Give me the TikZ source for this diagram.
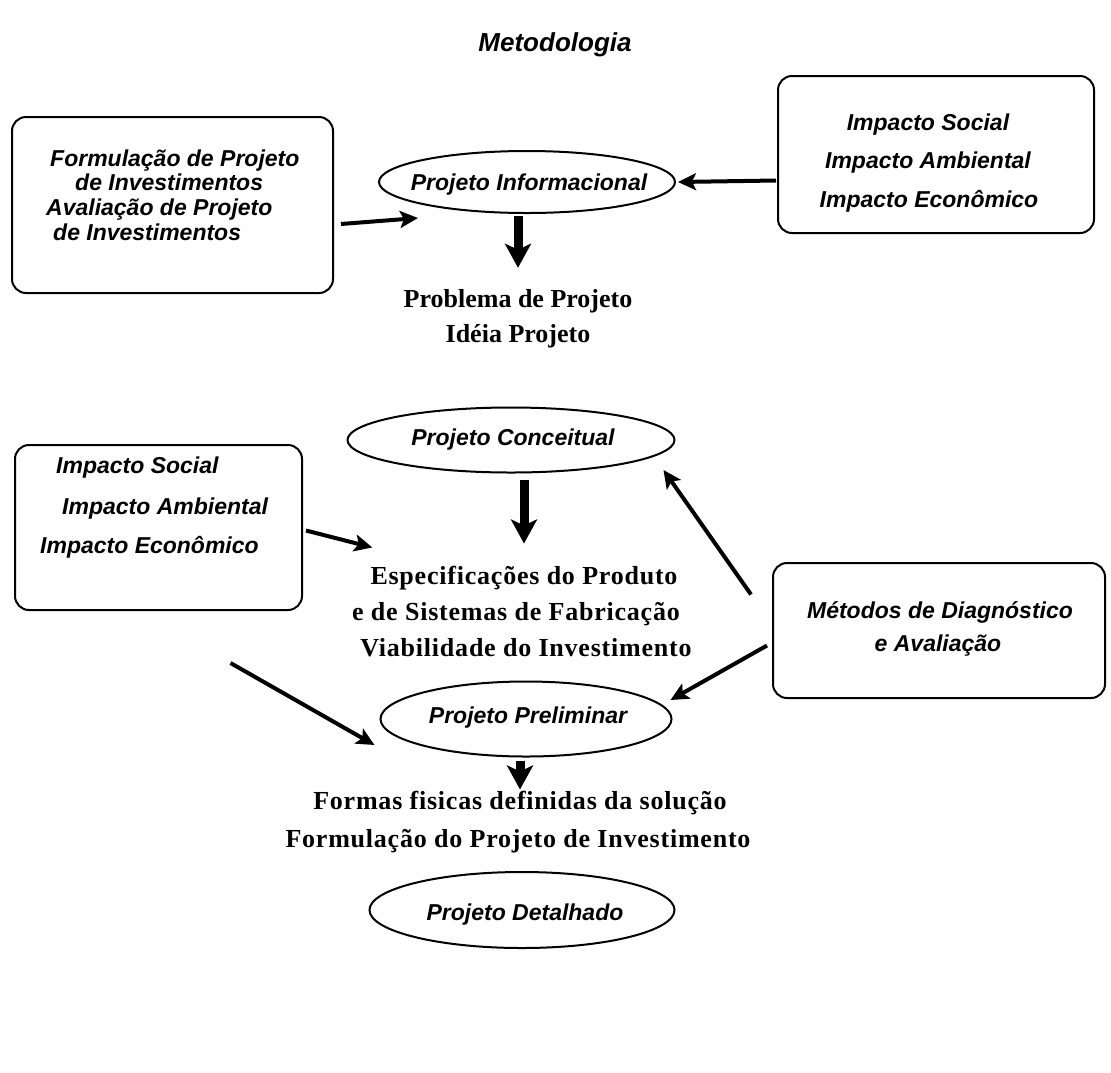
\documentclass[tikz,border=0pt]{standalone}
\usepackage{fontspec}
\setmainfont{Liberation Serif}
\setsansfont{Liberation Sans}
\newfontfamily\spacedserif[LetterSpace=3]{Liberation Serif}
\usetikzlibrary{arrows.meta,shapes.geometric}

\tikzset{
  box/.style={draw, line width=2pt, rounded corners=14pt, inner sep=0pt},
  ell/.style={draw, ellipse, line width=2pt, inner sep=0pt},
  lbl/.style={font=\fontsize{23}{23}\selectfont\sffamily\bfseries\itshape, inner sep=0pt},
  txt/.style={font=\fontsize{26}{26}\selectfont\rmfamily\bfseries, inner sep=0pt},
  widetxt/.style={font=\fontsize{26}{26}\selectfont\spacedserif\bfseries, inner sep=0pt},
  ttl/.style={font=\fontsize{26}{26}\selectfont\sffamily\bfseries\itshape, inner sep=0pt},
  thinarrow/.style={line width=4pt, -{Stealth[length=18pt,width=17pt,inset=4pt]}},
  downarrow/.style={line width=9pt, -{Stealth[length=24pt,width=26pt,inset=6pt]}},
}

\begin{document}
\begin{tikzpicture}[x=1pt,y=-1pt]
\fill[white] (0,0) rectangle (1111,1072);
\useasboundingbox (0,0) rectangle (1111,1072);

% title
\node[ttl, anchor=base] (title) at (555,51) {Metodologia};

% top row
\node[box, minimum width=321pt, minimum height=176pt] (invbox) at (172.5,205) {};
\node[lbl, anchor=base west] (inv1) at (50,166) {Formulação de Projeto};
\node[lbl, anchor=base west] (inv2) at (75,190) {de Investimentos};
\node[lbl, anchor=base west] (inv3) at (46,215) {Avaliação de Projeto};
\node[lbl, anchor=base west] (inv4) at (53,240) {de Investimentos};

\node[ell, minimum width=296pt, minimum height=62pt] (info) at (527,182) {};
\node[lbl, anchor=base] (infotxt) at (529,190) {Projeto Informacional};

\node[box, minimum width=316pt, minimum height=157pt] (impR) at (936,154.5) {};
\node[lbl, anchor=base] (impR1) at (928,130) {Impacto Social};
\node[lbl, anchor=base] (impR2) at (928,168) {Impacto Ambiental};
\node[lbl, anchor=base] (impR3) at (929,207) {Impacto Econômico};

\node[txt, anchor=base] (prob1) at (518,307) {Problema de Projeto};
\node[txt, anchor=base] (prob2) at (518,342) {Idéia Projeto};

% middle row
\node[ell, minimum width=327pt, minimum height=65pt] (conc) at (511,440) {};
\node[lbl, anchor=base] (conctxt) at (513,445) {Projeto Conceitual};

\node[box, minimum width=287pt, minimum height=165pt] (impL) at (158.5,527.5) {};
\node[lbl, anchor=base west] (impL1) at (56,473) {Impacto Social};
\node[lbl, anchor=base west] (impL2) at (62,514) {Impacto Ambiental};
\node[lbl, anchor=base west] (impL3) at (40,553) {Impacto Econômico};

\node[widetxt, anchor=base] (spec1) at (524,584) {Especificações do Produto};
\node[widetxt, anchor=base] (spec2) at (516,620) {e de Sistemas de Fabricação};
\node[widetxt, anchor=base] (spec3) at (526,656) {Viabilidade do Investimento};

\node[box, minimum width=332pt, minimum height=135pt] (meth) at (939,630.5) {};
\node[lbl, anchor=base] (meth1) at (940,618) {Métodos de Diagnóstico};
\node[lbl, anchor=base] (meth2) at (938,651) {e Avaliação};

% lower row
\node[ell, minimum width=291pt, minimum height=75pt] (prel) at (526,719) {};
\node[lbl, anchor=base] (preltxt) at (528,723) {Projeto Preliminar};

\node[widetxt, anchor=base] (form1) at (520,809) {Formas fisicas definidas da solução};
\node[widetxt, anchor=base] (form2) at (518,847) {Formulação do Projeto de Investimento};

\node[ell, minimum width=305pt, minimum height=76pt] (det) at (522,910) {};
\node[lbl, anchor=base] (dettxt) at (525,920) {Projeto Detalhado};

% connectors
\draw[thinarrow] ([shift={(7,19)}]invbox.east) -- ([shift={(-109,36)}]info.center);
\draw[thinarrow] ([shift={(-1,26)}]impR.west) -- ([xshift=2pt]info.east);
\draw[downarrow, shorten <=2pt] (prob1.north |- info.south) -- ([yshift=21pt]prob1.north);
\draw[downarrow, shorten <=6pt] (spec1.north |- conc.south) -- ([yshift=22pt]spec1.north);
\draw[thinarrow] ([shift={(3,3)}]impL.east) -- ([shift={(2,-18)}]spec1.north west);
\draw[thinarrow] ([shift={(-21,-36)}]meth.west) -- ([shift={(-12,30)}]conc.east);
\draw[thinarrow] ([shift={(-5,15)}]meth.west) -- ([shift={(-2,-19)}]prel.east);
\draw[thinarrow] ([shift={(72,52)}]impL.south) -- ([shift={(-5,26)}]prel.west);
\draw[downarrow, shorten <=3pt, shorten >=1pt] (form1.north |- prel.south) -- (form1.north);
\end{tikzpicture}
\end{document}
